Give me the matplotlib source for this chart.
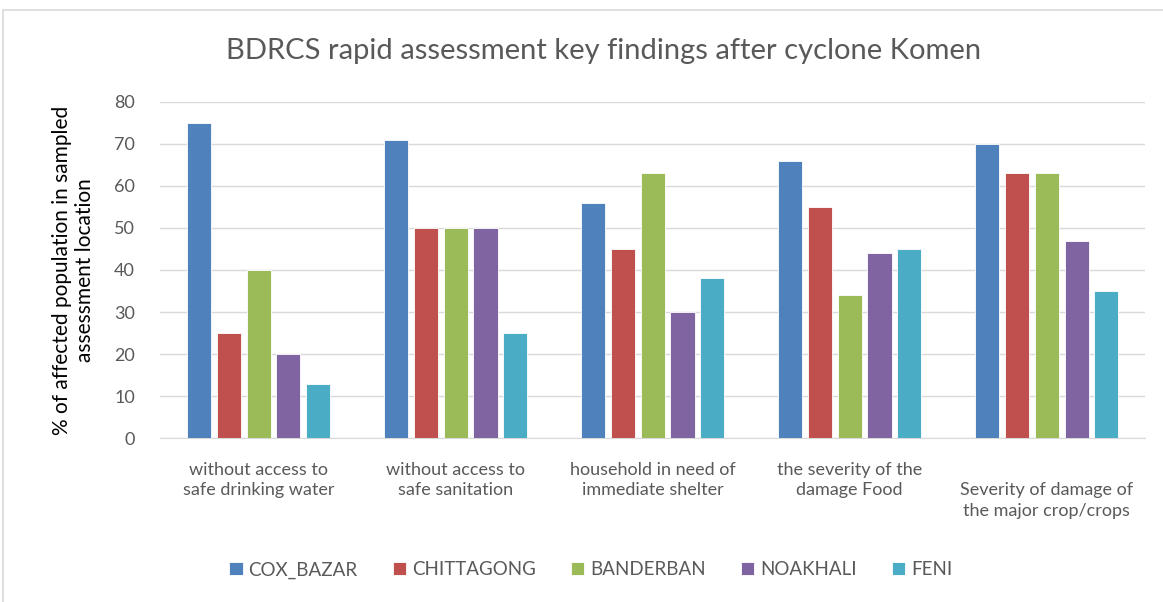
import matplotlib.pyplot as plt
import numpy as np
from matplotlib.patches import Rectangle

plt.rcParams["font.family"] = ["Lato", "DejaVu Sans"]

categories = [
    "without access to\nsafe drinking water",
    "without access to\nsafe sanitation",
    "household in need of\nimmediate shelter",
    "the severity of the\ndamage Food",
    "Severity of damage of\nthe major crop/crops",
]
districts = ["COX_BAZAR", "CHITTAGONG", "BANDERBAN", "NOAKHALI", "FENI"]
cox_bazar = [75, 71, 56, 66, 70]
chittagong = [25, 50, 45, 55, 63]
banderban = [40, 50, 63, 34, 63]
noakhali = [20, 50, 30, 44, 47]
feni = [13, 25, 38, 45, 35]
series = [cox_bazar, chittagong, banderban, noakhali, feni]
colors = ["#4F81BD", "#C0504D", "#9BBB59", "#8064A2", "#4BACC6"]

fig = plt.figure(figsize=(11.63, 6.02), dpi=100)
ax = fig.add_axes([0.1376, 0.272, 0.847, 0.559])

x = np.arange(len(categories))
slot = 0.152
width = 0.122
for i, (vals, name, col) in enumerate(zip(series, districts, colors)):
    ax.bar(x + (i - 2) * slot, vals, width, color=col, label=name,
           edgecolor="white", linewidth=0.6, zorder=3)

ax.set_xlim(-0.5, len(categories) - 0.5)
ax.set_ylim(0, 80)
ax.set_yticks(range(0, 81, 10))
ax.yaxis.grid(True, color="#d9d9d9", linewidth=1, zorder=0)
for s in ["top", "right", "left"]:
    ax.spines[s].set_visible(False)
ax.spines["bottom"].set_color("#d9d9d9")
ax.tick_params(axis="both", length=0, colors="#595959")
ax.tick_params(axis="y", labelsize=13, pad=18)
ax.set_xticks(x)
# last label is staggered one line lower, as in the original chart
tick_text = categories[:-1] + ["\n" + categories[-1]]
ax.set_xticklabels(tick_text, fontsize=13, color="#595959", linespacing=1.35)
ax.tick_params(axis="x", pad=17)

ax.set_ylabel("% of affected population in sampled\nassessment location",
              fontsize=15, color="black", labelpad=14, linespacing=1.2)
fig.text(0.519, 0.915, "BDRCS rapid assessment key findings after cyclone Komen",
         ha="center", va="center", fontsize=21, color="#595959")

ax.legend(loc="center", bbox_to_anchor=(0.508, 0.053), bbox_transform=fig.transFigure,
          ncol=5, frameon=False, fontsize=13.5, handlelength=0.7, handleheight=0.7,
          columnspacing=1.9, handletextpad=0.3, labelcolor="#595959")

fig.patches.append(Rectangle((0.003, -0.01), 1.1, 0.993, transform=fig.transFigure,
                             fill=False, edgecolor="#d9d9d9", linewidth=1.2))

fig.savefig("out.png", dpi=100)
